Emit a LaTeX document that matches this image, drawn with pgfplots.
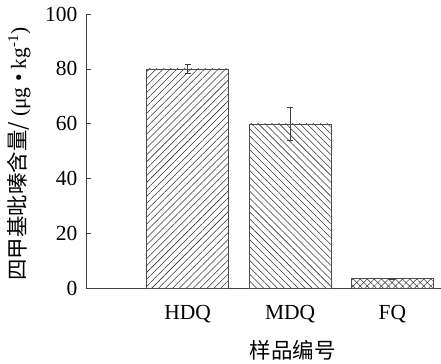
\documentclass[border=0pt]{standalone}
\usepackage{pgfplots}
\pgfplotsset{compat=1.18}
\usepackage{fontspec}
\setmainfont{Liberation Serif}
\newfontfamily\cjk{Noto Sans CJK SC}
\usetikzlibrary{patterns.meta}
\begin{document}
\begin{tikzpicture}
\begin{axis}[
  scale only axis,
  width=354pt, height=275pt,
  xmin=-0.985, xmax=2.47,
  ymin=0, ymax=100,
  axis x line=bottom, axis y line=left,
  axis line style={-, line width=1pt, black!75},
  ytick={0,20,40,60,80,100},
  xtick={0,1,2},
  xticklabels={HDQ,MDQ,FQ},
  x tick style={draw=none},
  y tick style={black!75, line width=0.8pt},
  tick align=inside,
  major tick length=4pt,
  tick label style={font=\fontsize{21.5}{21.5}\selectfont},
  /pgf/number format/assume math mode=true,
  xticklabel style={yshift=-9pt},
  yticklabel style={xshift=-6pt},
  xlabel={\cjk\fontsize{21.5}{21.5}\selectfont 样品编号},
  ylabel={\cjk\fontsize{21.5}{21.5}\selectfont 四甲基吡嗪含量/{\rmfamily\ (μg\ •\ kg\textsuperscript{-1})}},
  xlabel style={at={(axis description cs:0.582,-0.225)}, anchor=center},
  ylabel style={at={(axis description cs:-0.192,0.49)}, anchor=center},
  ybar, bar width=0.8, bar shift=0pt,
  clip=false,
]
\addplot[draw=black!70, line width=0.7pt,
  pattern={Lines[angle=45, distance=4.9pt, line width=0.55pt]}, pattern color=black!80,
  error bars/.cd, y dir=both, y explicit, error bar style={black!75, line width=0.7pt},
  error mark options={rotate=90, mark size=3pt, black!75}]
  coordinates {(0,80) +- (0,1.6)};
\addplot[draw=black!70, line width=0.7pt,
  pattern={Lines[angle=-45, distance=4.9pt, line width=0.55pt]}, pattern color=black!80,
  error bars/.cd, y dir=both, y explicit, error bar style={black!75, line width=0.7pt},
  error mark options={rotate=90, mark size=3pt, black!75}]
  coordinates {(1,60) +- (0,6)};
\addplot[draw=black!70, line width=0.7pt,
  pattern={Lines[angle=45, distance=5pt, line width=0.5pt]}, pattern color=black!80,
  postaction={pattern={Lines[angle=-45, distance=5pt, line width=0.5pt]}, pattern color=black!80},
  error bars/.cd, y dir=both, y explicit, error bar style={black!75, line width=0.7pt},
  error mark options={rotate=90, mark size=3pt, black!75}]
  coordinates {(2,3.7) +- (0,0.2)};
\path (axis description cs:-0.2458,1.0509) rectangle (axis description cs:1,-0.2655);
\end{axis}
\end{tikzpicture}
\end{document}
